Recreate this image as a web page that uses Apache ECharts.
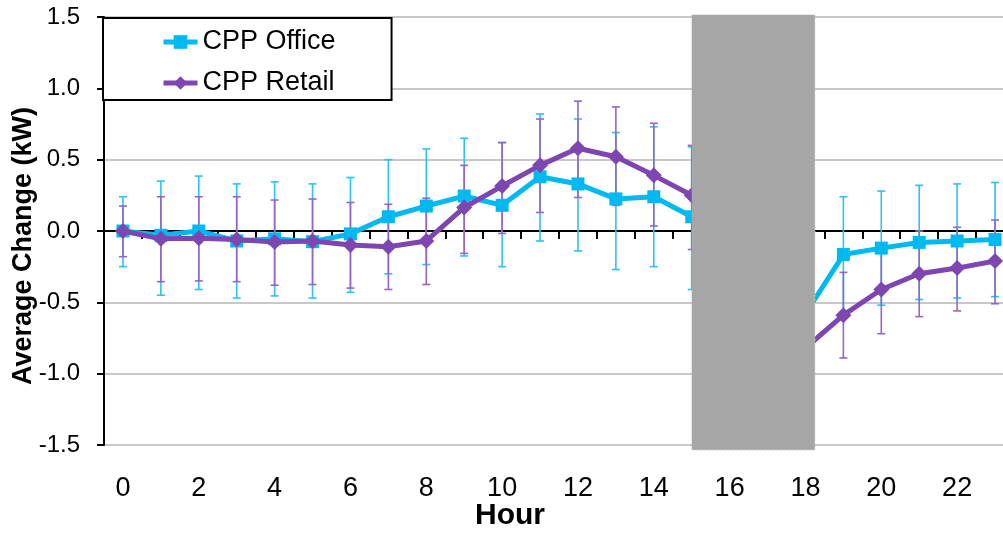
<!DOCTYPE html>
<html><head><meta charset="utf-8">
<script src="https://cdn.jsdelivr.net/npm/echarts@6/dist/echarts.min.js"></script>
<style>html,body{margin:0;padding:0;background:#fff;overflow:hidden;width:1003px;height:533px}#c{width:1014px;height:533px}</style>
</head><body><div id="c"></div>
<script>
// ---- data ----
const hours = ['0','1','2','3','4','5','6','7','8','9','10','11','12','13','14','15','16','17','18','19','20','21','22','23'];
const yMin = -1.5, yMax = 1.5, yStep = 0.5;

const officeName = 'CPP Office';
const office     = [0.00,-0.03,0.00,-0.07,-0.055,-0.075,-0.02,0.10,0.175,0.245,0.18,0.38,0.33,0.225,0.24,0.10,-0.50,-0.55,-0.58,-0.165,-0.12,-0.08,-0.07,-0.06];
const officeHigh = [0.24,0.35,0.385,0.33,0.345,0.33,0.375,0.50,0.575,0.65,0.62,0.82,0.785,0.69,0.73,0.59,-0.10,-0.15,-0.18,0.24,0.28,0.32,0.33,0.34];
const officeLow  = [-0.25,-0.45,-0.41,-0.47,-0.455,-0.47,-0.43,-0.30,-0.235,-0.175,-0.25,-0.07,-0.14,-0.27,-0.25,-0.41,-0.90,-0.95,-0.98,-0.57,-0.52,-0.48,-0.47,-0.46];

const retailName = 'CPP Retail';
const retail     = [0.00,-0.055,-0.05,-0.06,-0.077,-0.07,-0.098,-0.11,-0.07,0.165,0.315,0.46,0.58,0.52,0.39,0.25,-0.70,-0.78,-0.82,-0.59,-0.41,-0.30,-0.26,-0.21];
const retailHigh = [0.175,0.24,0.24,0.24,0.217,0.224,0.20,0.187,0.23,0.46,0.62,0.785,0.91,0.87,0.755,0.60,-0.35,-0.43,-0.47,-0.29,-0.11,0.00,0.026,0.077];
const retailLow  = [-0.18,-0.355,-0.35,-0.355,-0.38,-0.375,-0.40,-0.41,-0.375,-0.157,-0.017,0.13,0.235,0.18,0.035,-0.13,-1.05,-1.13,-1.17,-0.89,-0.72,-0.60,-0.56,-0.51];

const peakWindow = [[15, 18.25, 1.515, -1.535]];   // [startHour, endHour, top, bottom]

// ---- chart ----
const FONT = '"Liberation Sans", Arial, sans-serif';
const chart = echarts.init(document.getElementById('c'), null, {renderer: 'canvas'});

function errData(lo, hi) { return hours.map((h, i) => [i, lo[i], hi[i]]); }
function errRender(color) {
  return function (params, api) {
    const x = api.value(0);
    const pLo = api.coord([x, api.value(1)]);
    const pHi = api.coord([x, api.value(2)]);
    const cap = 4;
    const st = {stroke: color, lineWidth: 1.6};
    return {type: 'group', children: [
      {type: 'line', shape: {x1: pLo[0], y1: pLo[1], x2: pHi[0], y2: pHi[1]}, style: st},
      {type: 'line', shape: {x1: pLo[0]-cap, y1: pLo[1], x2: pLo[0]+cap, y2: pLo[1]}, style: st},
      {type: 'line', shape: {x1: pHi[0]-cap, y1: pHi[1], x2: pHi[0]+cap, y2: pHi[1]}, style: st}
    ]};
  };
}
function rectRender(params, api) {
  const p1 = api.coord([api.value(0), api.value(2)]);
  const p2 = api.coord([api.value(1), api.value(3)]);
  return {type: 'group', children: [
    {type: 'rect', shape: {x: p1[0], y: p1[1], width: p2[0]-p1[0], height: p2[1]-p1[1]},
     style: {fill: '#A6A6A6'}},
    {type: 'polyline', shape: {points: [[p2[0], p1[1]], [p2[0], p2[1]], [p1[0], p2[1]]]},
     style: {stroke: '#D0D0D0', lineWidth: 1, lineDash: [2, 2], fill: null}}
  ]};
}

const cyan = '#00B9F1', purple = '#7E46B1';

chart.setOption({
  animation: false,
  backgroundColor: '#fff',
  grid: {left: 104, top: 17, right: 0, bottom: 88, containLabel: false},
  title: {text: 'Hour', left: 505, top: 496, textAlign: 'center',
    textStyle: {fontFamily: FONT, fontSize: 30, fontWeight: 'bold', color: '#000'}},
  graphic: [{type: 'text', x: 24, y: 246, rotation: Math.PI / 2,
    style: {text: 'Average Change (kW)', fontFamily: FONT, fontSize: 27, fontWeight: 'bold',
      fill: '#000', align: 'center', verticalAlign: 'middle'}}],
  legend: {
    data: [officeName, retailName], orient: 'vertical', left: 103, top: 18,
    backgroundColor: '#fff', borderColor: '#000', borderWidth: 2,
    padding: [10, 56, 3, 58], itemGap: 13, itemWidth: 34, itemHeight: 17,
    lineStyle: {width: 5},
    textStyle: {fontFamily: FONT, fontSize: 27, color: '#000', lineHeight: 28}
  },
  xAxis: [
    {type: 'category', data: hours, boundaryGap: true, position: 'bottom',
     axisLine: {show: false, onZero: false}, axisTick: {show: false},
     axisLabel: {interval: 1, margin: 30, fontFamily: FONT, fontSize: 27, color: '#000'},
     splitLine: {show: false}},
    {type: 'category', data: hours, boundaryGap: true, position: 'bottom',
     axisLine: {show: true, onZero: true, lineStyle: {color: '#000', width: 2}},
     axisTick: {show: true, length: 8, lineStyle: {color: '#000', width: 2}},
     axisLabel: {show: false}, splitLine: {show: false}},
    {type: 'value', min: -0.5, max: 23.5, show: false}
  ],
  yAxis: {
    type: 'value', min: yMin, max: yMax, interval: yStep,
    axisLine: {show: true, onZero: false, lineStyle: {color: '#000', width: 2}},
    axisTick: {show: true, length: 7, lineStyle: {color: '#000', width: 2}},
    axisLabel: {margin: 24, fontFamily: FONT, fontSize: 24, color: '#000',
      formatter: v => v.toFixed(1)},
    splitLine: {show: true, lineStyle: {color: '#C8C8C8', width: 2}}
  },
  series: [
    {name: 'officeErr', type: 'custom', xAxisIndex: 0, z: 1, silent: true,
     renderItem: errRender('#2CC2F2'), data: errData(officeLow, officeHigh), encode: {x: 0, y: [1, 2]}},
    {name: 'retailErr', type: 'custom', xAxisIndex: 0, z: 1, silent: true,
     renderItem: errRender('#9566C4'), data: errData(retailLow, retailHigh), encode: {x: 0, y: [1, 2]}},
    {name: officeName, type: 'line', xAxisIndex: 0, z: 3, data: office,
     lineStyle: {color: cyan, width: 5}, itemStyle: {color: cyan},
     symbol: 'rect', symbolSize: 13, showAllSymbol: true},
    {name: retailName, type: 'line', xAxisIndex: 0, z: 4, data: retail,
     lineStyle: {color: purple, width: 5}, itemStyle: {color: purple},
     symbol: 'diamond', symbolSize: 16, showAllSymbol: true},
    {name: 'peak', type: 'custom', xAxisIndex: 2, z: 10, silent: true, clip: false,
     renderItem: rectRender, data: peakWindow, encode: {x: [0, 1], y: [2, 3]}}
  ]
});
</script></body></html>
